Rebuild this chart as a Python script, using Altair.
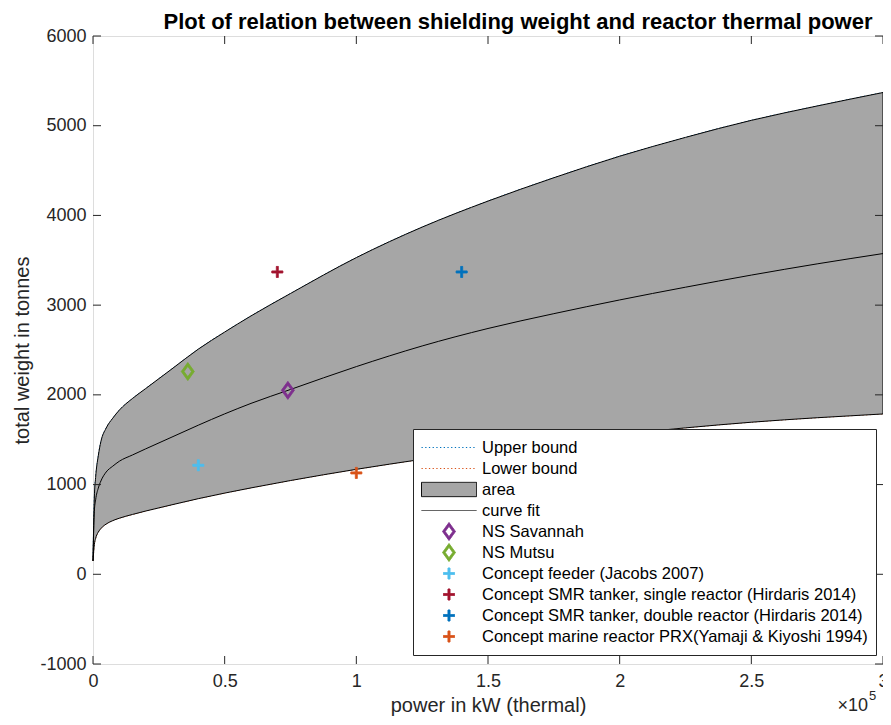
import altair as alt
import pandas as pd

# ---------------- data ----------------
power_kw = [0, 500, 1000, 2000, 3000, 5000, 7500, 10000, 15000, 20000, 30000, 40000,
            50000, 60000, 75000, 100000, 125000, 150000, 175000, 200000, 225000,
            250000, 275000, 300000]
upper_t = [150, 850, 1080, 1320, 1480, 1630, 1740, 1830, 1960, 2070, 2290, 2510,
           2700, 2880, 3130, 3530, 3870, 4160, 4420, 4660, 4870, 5060, 5220, 5370]
fit_t = [150, 700, 830, 960, 1040, 1140, 1205, 1260, 1330, 1398, 1530, 1662,
         1788, 1905, 2060, 2315, 2545, 2740, 2905, 3058, 3200, 3335, 3460, 3575]
lower_t = [150, 330, 400, 470, 510, 560, 598, 625, 667, 705, 775, 843,
           905, 963, 1045, 1170, 1282, 1385, 1478, 1560, 1632, 1695, 1745, 1787]

ref_names = ["NS Savannah", "NS Mutsu", "Concept feeder (Jacobs 2007)",
             "Concept SMR tanker, single reactor (Hirdaris 2014)",
             "Concept SMR tanker, double reactor (Hirdaris 2014)",
             "Concept marine reactor PRX(Yamaji & Kiyoshi 1994)"]
ref_power = [74000, 36000, 40000, 70000, 140000, 100000]
ref_weight = [2050, 2260, 1215, 3370, 3370, 1130]

line_names = ["Upper bound", "Lower bound", "area", "curve fit"]
x_ticks = [0, 50000, 100000, 150000, 200000, 250000, 300000]
y_ticks = [-1000, 0, 1000, 2000, 3000, 4000, 5000, 6000]
title_text = ["Plot of relation between shielding weight and reactor thermal power"]

# ---------------- styling ----------------
W, H = 790, 628
AX = "#262626"
FONT = "Liberation Sans"
C_BLUE, C_ORANGE = "#0072BD", "#D95319"
C_PURPLE, C_GREEN, C_CYAN, C_RED = "#7E2F8E", "#77AC30", "#4DBEEE", "#A2142F"
GRAY = "#A6A6A6"

LINE = "M-1,0L1,0"
RECT = "M-1,-0.26L1,-0.26L1,0.26L-1,0.26Z"
DIAM = ("M0,-0.327L0.236,0L0,0.327L-0.236,0Z"
        "M0,-0.19L-0.138,0L0,0.19L0.138,0Z")
CROSS = ("M-0.2,-0.036L-0.036,-0.036L-0.036,-0.2L0.036,-0.2L0.036,-0.036L0.2,-0.036"
         "L0.2,0.036L0.036,0.036L0.036,0.2L-0.036,0.2L-0.036,0.036L-0.2,0.036Z")

legend_domain = line_names + ref_names
shape_range = [LINE, LINE, RECT, LINE, DIAM, DIAM, CROSS, CROSS, CROSS, CROSS]
fill_range = ["transparent", "transparent", GRAY, "transparent",
              C_PURPLE, C_GREEN, C_CYAN, C_RED, C_BLUE, C_ORANGE]
stroke_range = [C_BLUE, C_ORANGE, "#000000", "#333333",
                C_PURPLE, C_GREEN, C_CYAN, C_RED, C_BLUE, C_ORANGE]
dash_range = [[1.3, 2.4], [1.3, 2.4], [1, 0], [1, 0],
              [1, 0], [1, 0], [1, 0], [1, 0], [1, 0], [1, 0]]

xs = alt.Scale(domain=[0, 300000], nice=False, zero=False)
ys = alt.Scale(domain=[-1000, 6000], nice=False, zero=False)

xax = alt.Axis(values=x_ticks, labelExpr="'' + datum.value / 100000",
               title="power in kW (thermal)", ticks=False, tickSize=0, domain=False,
               grid=False, labelFontSize=18, titleFontSize=20, labelPadding=8,
               labelColor=AX, titleColor=AX, titleFontWeight="normal",
               labelFlush=False, labelOverlap=False, labelFont=FONT, titleFont=FONT,
               titleX=W / 2, titleY=47, titleAlign="center", titleBaseline="alphabetic")
yax = alt.Axis(values=y_ticks, labelExpr="'' + datum.value",
               title="total weight in tonnes", ticks=False, tickSize=0, domain=False,
               grid=False, labelFontSize=18, titleFontSize=20, labelPadding=7,
               labelColor=AX, titleColor=AX, titleFontWeight="normal",
               labelFlush=False, labelOverlap=False, labelFont=FONT, titleFont=FONT,
               titleX=-61, titleY=H / 2, titleAngle=270, titleAlign="center",
               titleBaseline="bottom")


def X(field):
    return alt.X(field, type="quantitative", scale=xs, axis=xax)


def Y(field):
    return alt.Y(field, type="quantitative", scale=ys, axis=yax)


curves = pd.DataFrame({"p": power_kw, "up": upper_t, "fit": fit_t, "lo": lower_t})
refs = pd.DataFrame({"p": ref_power, "w": ref_weight, "series": ref_names})

upper_line = alt.Chart(curves).mark_line(color=C_BLUE, strokeDash=[1.3, 2.4],
                                         strokeWidth=1, interpolate="monotone").encode(
    x=X("p"), y=Y("up"))
lower_line = alt.Chart(curves).mark_line(color=C_ORANGE, strokeDash=[1.3, 2.4],
                                         strokeWidth=1, interpolate="monotone").encode(
    x=X("p"), y=Y("lo"))
band = alt.Chart(curves).mark_area(fill=GRAY, opacity=1, stroke="#000000",
                                   strokeWidth=1, interpolate="monotone").encode(
    x=X("p"), y=Y("up"), y2=alt.Y2("lo"))
fit_line = alt.Chart(curves).mark_line(color="#000000", strokeWidth=1,
                                       interpolate="monotone").encode(
    x=X("p"), y=Y("fit"))

leg = alt.Legend(title=None, orient="none", legendX=320, legendY=393, padding=8,
                 strokeColor=AX, fillColor="white", symbolSize=3025,
                 symbolStrokeWidth=1, clipHeight=21, rowPadding=0,
                 labelFontSize=16.5, labelFont=FONT, labelColor="#000000",
                 labelOffset=5, labelLimit=600, symbolOffset=0)

points = alt.Chart(refs).mark_point(filled=True, opacity=1, strokeWidth=1,
                                    size=3025).encode(
    x=X("p"), y=Y("w"),
    shape=alt.Shape("series:N", scale=alt.Scale(domain=legend_domain, range=shape_range),
                    legend=leg),
    fill=alt.Fill("series:N", scale=alt.Scale(domain=legend_domain, range=fill_range),
                  legend=leg),
    stroke=alt.Stroke("series:N", scale=alt.Scale(domain=legend_domain, range=stroke_range),
                      legend=leg),
    strokeDash=alt.StrokeDash("series:N",
                              scale=alt.Scale(domain=legend_domain, range=dash_range),
                              legend=leg),
)

xt = pd.DataFrame({"p": x_ticks})
yt = pd.DataFrame({"w": y_ticks})
tick_b = alt.Chart(xt).mark_rule(color=AX, strokeWidth=1).encode(
    x=X("p"), y=alt.value(H), y2=alt.value(H - 8))
tick_t = alt.Chart(xt).mark_rule(color=AX, strokeWidth=1).encode(
    x=X("p"), y=alt.value(0), y2=alt.value(8))
tick_l = alt.Chart(yt).mark_rule(color=AX, strokeWidth=1).encode(
    y=Y("w"), x=alt.value(0), x2=alt.value(8))
tick_r = alt.Chart(yt).mark_rule(color=AX, strokeWidth=1).encode(
    y=Y("w"), x=alt.value(W), x2=alt.value(W - 8))

exp_df = pd.DataFrame({"base": ["\u00d710"], "sup": ["5"]})
exp_base = alt.Chart(exp_df).mark_text(align="right", baseline="alphabetic", fontSize=18,
                                       font=FONT, color=AX).encode(
    text="base:N", x=alt.value(W - 15), y=alt.value(H + 47))
exp_sup = alt.Chart(exp_df).mark_text(align="left", baseline="alphabetic", fontSize=13,
                                      font=FONT, color=AX).encode(
    text="sup:N", x=alt.value(W - 14), y=alt.value(H + 36))

title_df = pd.DataFrame({"t": title_text})
title_mark = alt.Chart(title_df).mark_text(align="center", baseline="alphabetic",
                                           fontSize=22, fontWeight="bold", font=FONT,
                                           color="#000000").encode(
    text="t:N", x=alt.value(425), y=alt.value(-7))

chart = alt.layer(
    upper_line, lower_line, band, fit_line, points,
    tick_b, tick_t, tick_l, tick_r, exp_base, exp_sup, title_mark
).properties(
    width=W, height=H,
    autosize=alt.AutoSizeParams(type="none"),
    padding={"left": 85, "top": 28, "right": 0, "bottom": 52},
).configure_view(stroke=AX, strokeWidth=1).configure(font=FONT)

chart.save("out.html", embed_options={"renderer": "svg", "actions": False})
